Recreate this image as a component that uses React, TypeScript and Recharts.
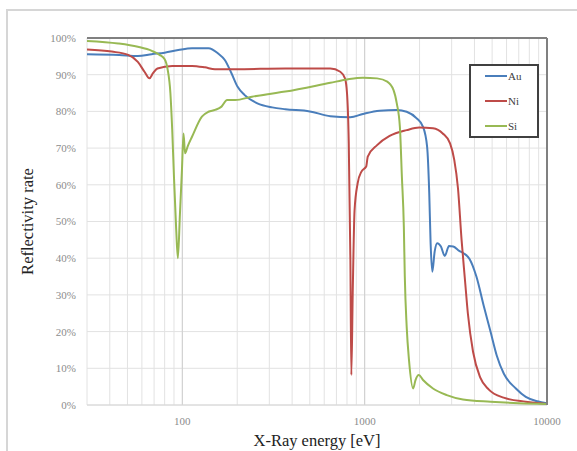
import React from 'react';
import {
  LineChart,
  Line,
  XAxis,
  YAxis,
  CartesianGrid,
  ReferenceLine,
  Legend,
  Label,
} from 'recharts';

// [energy eV, reflectivity %]
const auPoints: [number, number][] = [
  [30, 95.6], [45, 95.4], [57, 95.1], [68, 95.6], [80, 96.0], [95, 96.7], [113, 97.2],
  [139, 97.2], [157, 95.8], [171, 94.0], [186, 90.4], [201, 86.7], [219, 84.5],
  [258, 82.2], [311, 81.1], [367, 80.6], [500, 80.0], [648, 78.7], [834, 78.4],
  [978, 79.3], [1208, 80.2], [1500, 80.4], [1700, 79.9], [1929, 78.1], [2090, 75.8],
  [2200, 70.4], [2260, 57.8], [2300, 44], [2350, 36.3], [2420, 41.8], [2500, 44.1],
  [2620, 43.2], [2750, 40.6], [2900, 43.3], [3060, 43.2], [3300, 42], [3500, 41.3],
  [3760, 39.8], [4100, 35], [4500, 27], [4900, 20], [5300, 13.5], [5800, 8.5],
  [6750, 4.5], [7650, 2.2], [8860, 1.0], [10000, 0.5],
];

const niPoints: [number, number][] = [
  [30, 96.9], [41, 96.3], [50.5, 95.4], [57, 93.5], [62, 90.8], [66, 89], [69, 90.4],
  [73, 91.7], [88, 92.4], [113, 92.4], [133, 92], [151, 91.5], [195, 91.5], [367, 91.7],
  [648, 91.7], [735, 90.8], [780, 89], [800, 85], [818, 71.4], [835, 39.5], [845, 8.2],
  [860, 30.5], [880, 53], [915, 60.4], [960, 63.6], [1000, 64.5], [1020, 65],
  [1040, 67.7], [1170, 70.8], [1370, 73.3], [1700, 74.9], [1990, 75.6], [2370, 75.4],
  [2680, 74], [2940, 71.3], [3100, 66.8], [3250, 59], [3400, 45], [3550, 34],
  [3680, 25], [3930, 14.5], [4300, 7.5], [4800, 4.2], [5780, 2], [7650, 0.9],
  [10000, 0.3],
];

const siPoints: [number, number][] = [
  [30, 99.2], [44.5, 98.5], [57, 97.6], [68, 96.5], [75, 95.4], [80, 94.2], [83, 91.5],
  [86, 85], [88, 75], [90, 62], [92.5, 48], [94.5, 40], [97, 52], [99.5, 64],
  [101.5, 74], [103.5, 68.6], [107, 70.5], [113, 73.1], [128, 78.6], [139, 79.9],
  [151, 80.4], [164, 81.3], [176, 83.1], [195, 83.1], [241, 84], [294, 84.7],
  [367, 85.4], [648, 87.8], [800, 88.7], [978, 89.2], [1170, 89], [1330, 88.1],
  [1440, 85.8], [1500, 82.2], [1560, 75.8], [1600, 62.2], [1640, 48.6], [1660, 35],
  [1700, 21.3], [1750, 12.3], [1845, 4.5], [1900, 6.8], [1980, 8.2], [2090, 6.8],
  [2370, 4.5], [2820, 2.7], [3460, 1.5], [4900, 0.9], [7000, 0.5], [10000, 0.3],
];

const seriesNames = ['Au', 'Ni', 'Si'];
const seriesColors = ['#4a7ebb', '#be4b48', '#98b954'];

const xTicks = [
  30, 40, 50, 60, 70, 80, 90, 100, 200, 300, 400, 500, 600, 700, 800, 900, 1000,
  2000, 3000, 4000, 5000, 6000, 7000, 8000, 9000, 10000,
];
const xLabelTicks = [100, 1000, 10000];
const yTicks = [0, 10, 20, 30, 40, 50, 60, 70, 80, 90, 100];

const toRows = (pts: [number, number][]) => pts.map(([e, v]) => ({ e, v }));
const allSeries = [auPoints, niPoints, siPoints].map(toRows);

const serif = '"Liberation Serif", "Times New Roman", serif';
const tickStyle = { fontSize: 11, fontFamily: serif, fill: '#8c8c8c' };

const LegendBox = () => (
  <div
    style={{
      width: 66,
      height: 70,
      border: '2px solid #404040',
      background: '#fff',
      boxSizing: 'content-box',
    }}
  >
    <svg width={66} height={70} style={{ fontFamily: serif }}>
      {seriesNames.map((n, i) => (
        <g key={n}>
          <line
            x1={14}
            x2={36}
            y1={10 + i * 25}
            y2={10 + i * 25}
            stroke={seriesColors[i]}
            strokeWidth={2}
          />
          <text
            x={37}
            y={10 + i * 25}
            dy="0.35em"
            style={{ fontSize: 11, fontFamily: serif, fill: '#404040' }}
          >
            {n}
          </text>
        </g>
      ))}
    </svg>
  </div>
);

export default function App() {
  return (
    <div
      style={{
        position: 'absolute',
        left: 0,
        top: 0,
        width: 577,
        height: 451,
        background: '#fff',
        fontFamily: serif,
      }}
    >
      <div
        style={{
          position: 'absolute',
          left: 6,
          top: 9,
          width: 577,
          height: 451,
          borderTop: '2px solid #d6d6d6',
          borderLeft: '2px solid #d6d6d6',
        }}
      />
      <LineChart
        width={577}
        height={451}
        margin={{ top: 38, right: 30, bottom: 0, left: 0 }}
        style={{ position: 'absolute', left: 0, top: 0, fontFamily: serif }}
      >
        <CartesianGrid stroke="#e2e2e2" strokeWidth={1} />
        <XAxis
          type="number"
          dataKey="e"
          scale="log"
          domain={[30, 10000]}
          ticks={xTicks}
          interval={0}
          allowDataOverflow
          tickLine={false}
          axisLine={false}
          height={46}
          tickMargin={6}
          tick={{ ...tickStyle, style: tickStyle }}
          tickFormatter={(t: number) => (xLabelTicks.includes(t) ? String(t) : '')}
        >
          <Label
            value="X-Ray energy [eV]"
            position="insideBottom"
            offset={5}
            style={{ fontSize: 16.5, fontFamily: serif, fill: '#222' }}
          />
        </XAxis>
        <YAxis
          type="number"
          domain={[0, 100]}
          ticks={yTicks}
          interval={0}
          width={87}
          tickLine={false}
          axisLine={false}
          tickMargin={5}
          tick={{ ...tickStyle, style: tickStyle }}
          tickFormatter={(t: number) => `${t}%`}
        >
          <Label
            value="Reflectivity rate"
            position="insideLeft"
            angle={-90}
            offset={27}
            style={{ fontSize: 16.5, fontFamily: serif, fill: '#222', textAnchor: 'middle' }}
          />
        </YAxis>
        {[100, 1000].map((x) => (
          <ReferenceLine key={x} x={x} stroke="#cfcfcf" strokeWidth={1} />
        ))}
        <ReferenceLine y={0} stroke="#d6d6d6" strokeWidth={1} />
        {allSeries.map((rows, i) => (
          <Line
            key={seriesNames[i]}
            data={rows}
            dataKey="v"
            name={seriesNames[i]}
            type="monotone"
            stroke={seriesColors[i]}
            strokeWidth={2}
            dot={false}
            activeDot={false}
            isAnimationActive={false}
          />
        ))}
        <ReferenceLine y={100} stroke="#808080" strokeWidth={2} />
        <ReferenceLine x={10000} stroke="#808080" strokeWidth={2} />
        <Legend
          layout="horizontal"
          verticalAlign="middle"
          align="center"
          wrapperStyle={{ left: 469, top: 64, width: 70, height: 74 }}
          content={() => <LegendBox />}
        />
      </LineChart>
    </div>
  );
}
